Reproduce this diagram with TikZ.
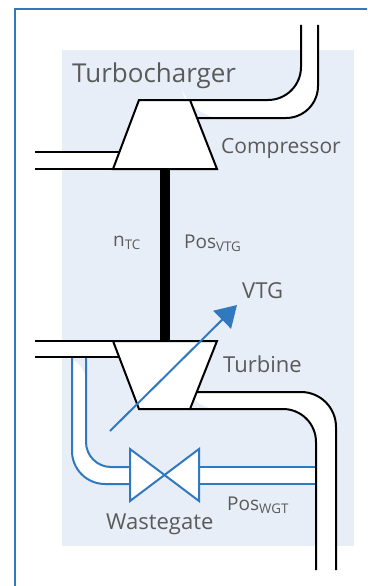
\documentclass[tikz,border=0pt]{standalone}
\usepackage{fontspec}
\setmainfont{Open Sans}
\usetikzlibrary{arrows.meta}
\definecolor{frameblue}{HTML}{3079BF}
\definecolor{panelblue}{HTML}{E8EEF8}
\definecolor{labelgray}{HTML}{5A5A5A}
\tikzset{
	wall/.style={line width=2pt, black},
	bleed/.style={line width=2pt, frameblue},
	body/.style={wall, fill=white, line join=miter},
	label/.style={anchor=base west, text=labelgray, inner sep=0pt, font=\fontsize{#1}{#1}\selectfont},
}

\begin{document}
\begin{tikzpicture}[x=1pt, y=-1pt]
	\useasboundingbox (0,0) rectangle (367,586);
	\coordinate (f_bl) at (15,586);
	\coordinate (f_tl) at (15,9.5);
	\coordinate (f_tr) at (367,9.5);
	\draw[bleed] (f_bl) -- (f_tl) -- (f_tr);
	\fill[panelblue] (62,50) rectangle (354,546);

	% compressor outlet
	\fill[white, rounded corners=33pt] (185,100) -- (301,100) -- (301,25) [sharp corners] -- (318,25) [rounded corners=32pt] -- (318,118) -- (190,118) [sharp corners] -- cycle;
	\coordinate (c_i1) at (190,100);
	\coordinate (c_i2) at (301,100);
	\coordinate (c_i3) at (301,25);
	\coordinate (c_o1) at (196,118);
	\coordinate (c_o2) at (318,118);
	\coordinate (c_o3) at (318,25);
	\draw[wall, rounded corners=33pt] (c_i1) -- (c_i2) -- (c_i3);
	\draw[wall, rounded corners=32pt] (c_o1) -- (c_o2) -- (c_o3);

	% turbine outlet
	\fill[white, rounded corners=35pt] (185,392) -- (336,392) -- (336,570) [sharp corners] -- (316,570) [rounded corners=33pt] -- (316,409) -- (185,409) [sharp corners] -- cycle;
	\coordinate (t_o1) at (196,392);
	\coordinate (t_o2) at (336,392);
	\coordinate (t_o3) at (336,570);
	\coordinate (t_i1) at (190,409);
	\coordinate (t_i2) at (316,409);
	\coordinate (t_i3) at (316,570);

	% left pipes
	\fill[white] (35,152) rectangle (125,169);
	\fill[white] (35,341) rectangle (125,357);
	\coordinate (cl_a) at (35,152);
	\coordinate (cl_b) at (35,169);
	\coordinate (tl_a) at (35,341);
	\coordinate (tl_b) at (35,357);
	\coordinate (cj_a) at (119,152);
	\coordinate (tj_b) at (119,357);

	% wastegate branch
	\fill[white, rounded corners=33pt] (72,357) -- (72,484) [sharp corners] -- (130,484) -- (130,467) [rounded corners=25pt] -- (86,467) -- (86,357) [sharp corners] -- cycle;
	\fill[white] (199,467) rectangle (315,484);
	\coordinate (w_o1) at (72,357);
	\coordinate (w_o2) at (72,484);
	\coordinate (w_i1) at (86,357);
	\coordinate (w_i2) at (86,467);
	\coordinate (v_lo) at (130,484);
	\coordinate (v_li) at (130,467);
	\coordinate (v_ri) at (199,467);
	\coordinate (v_ro) at (199,484);
	\coordinate (p_i) at (315,467);
	\coordinate (p_o) at (315,484);
	\draw[bleed, rounded corners=33pt] (w_o1) -- (w_o2) -- (v_lo);
	\draw[bleed, rounded corners=25pt] (w_i1) -- (w_i2) -- (v_li);
	\draw[bleed] (v_ri) -- (p_i);
	\draw[bleed] (v_ro) -- (p_o);
	\draw[bleed, fill=white] (130,449) -- (130,501) -- (164.5,475) -- cycle;
	\draw[bleed, fill=white] (199,449) -- (199,501) -- (164.5,475) -- cycle;

	\draw[wall, rounded corners=35pt] (t_o1) -- (t_o2) -- (t_o3);
	\draw[wall, rounded corners=33pt] (t_i1) -- (t_i2) -- (t_i3);
	\draw[wall] (cl_a) -- (cj_a);
	\draw[wall] (cl_b) -- (113,169);
	\draw[wall] (tl_a) -- (113,341);
	\draw[wall] (tl_b) -- (tj_b);

	% machines
	\coordinate (shaft_t) at (165,169);
	\coordinate (shaft_b) at (165,341);
	\draw[black, line width=10pt] (shaft_t) -- (shaft_b);
	\draw[body] (139,100) -- (190,100) -- (217,169) -- (113,169) -- cycle;
	\draw[body] (113,341) -- (217,341) -- (190,409) -- (139,409) -- cycle;

	% variable geometry arrow
	\coordinate (vtg_s) at (110,431);
	\coordinate (vtg_e) at (237,305);
	\draw[bleed, -{Triangle[length=21pt, width=25pt]}] (vtg_s) -- (vtg_e);

	\node[label=26] (l_tc) at (72,82) {Turbocharger};
	\node[label=21] (l_comp) at (221,153) {Compressor};
	\node[label=19] (l_n) at (113,246) {n\textsubscript{TC}};
	\node[label=19] (l_posv) at (184,248) {Pos\textsubscript{VTG}};
	\node[label=22] (l_vtg) at (242,298) {VTG};
	\node[label=22] (l_turb) at (223,372) {Turbine};
	\node[label=22] (l_wg) at (106,529) {Wastegate};
	\node[label=19] (l_posw) at (227,510) {Pos\textsubscript{WGT}};
\end{tikzpicture}
\end{document}
